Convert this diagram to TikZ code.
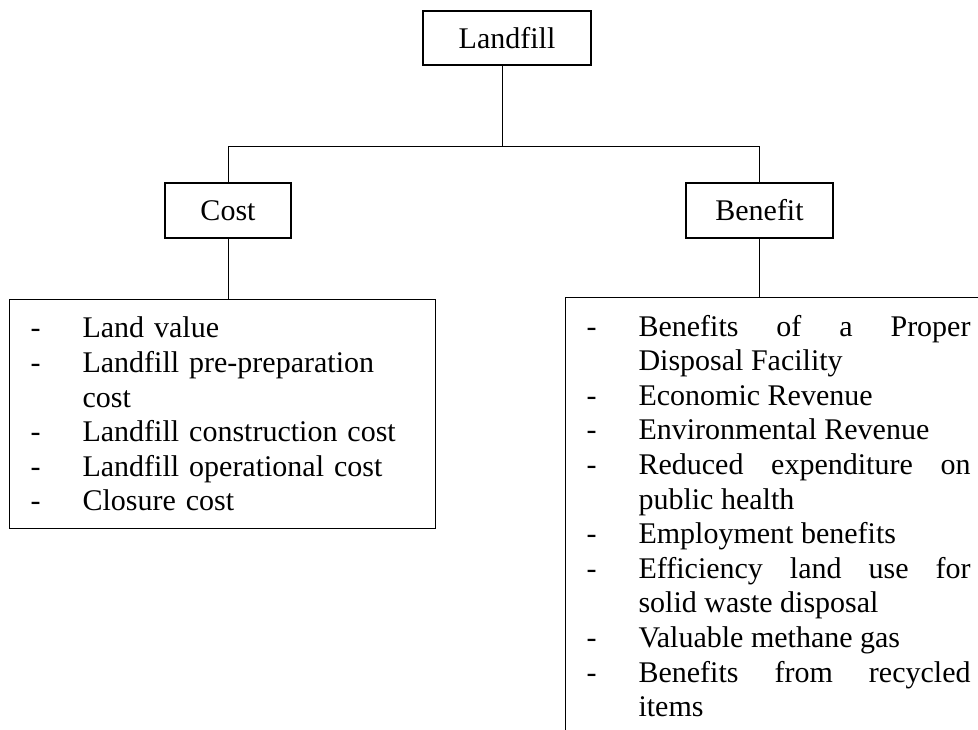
\documentclass[tikz,border=0pt]{standalone}
\usepackage{fontspec}
\setmainfont{Liberation Serif}
\usepackage{tikz}
\usetikzlibrary{positioning}
\newcommand{\dashitem}[1]{\hangindent=52pt\hangafter=1\noindent\makebox[52pt][l]{-}#1\par}
\newcommand{\listfont}{\fontsize{30}{34.6}\selectfont\hyphenpenalty=10000\relax
  \tolerance=9999\relax\spaceskip=7.5pt plus 12pt minus 0pt\relax}

\begin{document}
\begin{tikzpicture}[
    x=1pt, y=-1pt,
    box/.style={draw, line width=1.1pt, inner sep=0pt, align=center,
                font=\fontsize{30}{34.6}\selectfont},
    listbox/.style={draw, line width=1.1pt, anchor=north west, text width=384pt,
                inner xsep=21pt, inner ysep=17.5pt, font=\listfont},
    link/.style={line width=1pt}
  ]
    \useasboundingbox (0,0) rectangle (978,730);
    \clip (0,0) rectangle (978,730);
    \node[box, minimum width=168pt, minimum height=54pt] (landfill) at (507,38) {Landfill};
    \node[box, minimum width=126pt, minimum height=55pt] (cost) at (228,210.5) {Cost};
    \node[box, minimum width=147pt, minimum height=55pt] (benefit) at (759.5,210.5) {Benefit};
    \node[listbox, align=left] (costlist) at (9,299)
      {\dashitem{Land value}
       \dashitem{Landfill pre-preparation cost}
       \dashitem{Landfill construction cost}
       \dashitem{Landfill operational cost}
       \dashitem{Closure cost}};
    \node[listbox, align=justify] (benefitlist) at (565,297)
      {\dashitem{Benefits of a Proper Disposal Facility}
       \dashitem{Economic Revenue}
       \dashitem{Environmental Revenue}
       \dashitem{Reduced expenditure on public health}
       \dashitem{Employment benefits}
       \dashitem{Efficiency land use for solid waste disposal}
       \dashitem{Valuable methane gas}
       \dashitem{Benefits from recycled items}};
    \coordinate (split) at (502,147);
    \draw[link] (landfill.south -| split) -- (split);
    \draw[link] (split) -| (cost.north);
    \draw[link] (split) -| (benefit.north);
    \draw[link] (cost.south) -- (cost.south |- costlist.north);
    \draw[link] (benefit.south) -- (benefit.south |- benefitlist.north);
\end{tikzpicture}
\end{document}
